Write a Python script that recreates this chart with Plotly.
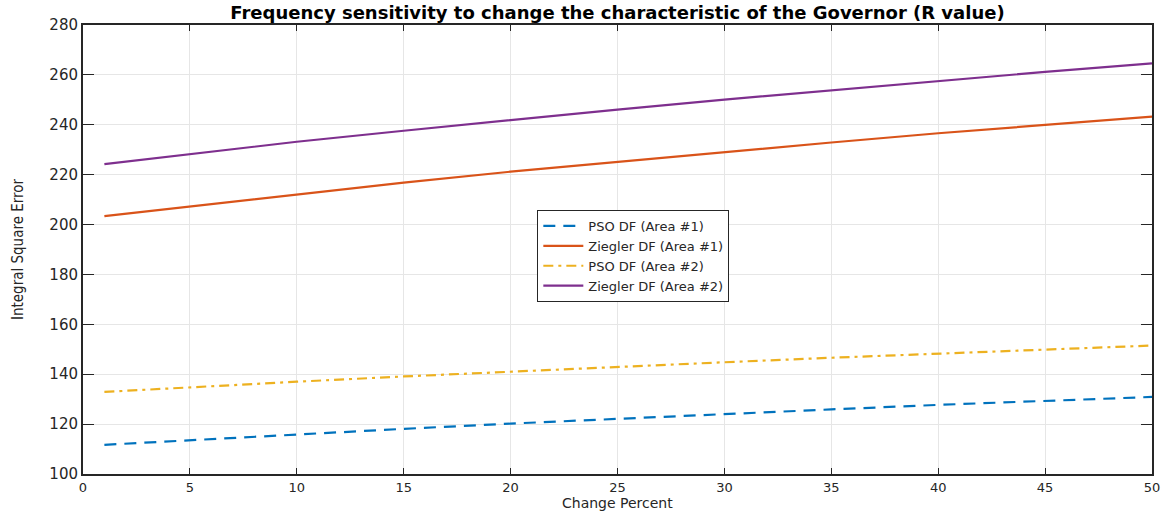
import plotly.graph_objects as go

change_percent = [1, 5, 10, 15, 20, 25, 30, 35, 40, 45, 50]
pso_area1 = [111.7, 113.6, 115.9, 118.1, 120.2, 122.2, 124.1, 125.9, 127.7, 129.3, 130.9]
ziegler_area1 = [203.4, 207.3, 212.2, 216.8, 221.2, 225.2, 229.1, 232.9, 236.6, 240.0, 243.3]
pso_area2 = [132.9, 134.8, 137.0, 139.1, 141.1, 143.0, 144.8, 146.6, 148.3, 149.9, 151.5]
ziegler_area2 = [224.2, 228.3, 233.2, 237.6, 242.0, 246.1, 250.1, 253.9, 257.6, 261.2, 264.6]

series_names = ["PSO DF (Area #1)", "Ziegler DF (Area #1)", "PSO DF (Area #2)", "Ziegler DF (Area #2)"]
colors = ["#0072BD", "#D95319", "#EDB120", "#7E2F8E"]
dashes = ["12px,8px", "solid", "10px,5px,3px,5px", "solid"]

fig = go.Figure()
for name, ys, c, d in zip(series_names, [pso_area1, ziegler_area1, pso_area2, ziegler_area2], colors, dashes):
    fig.add_trace(go.Scatter(x=change_percent, y=ys, mode="lines", name=name,
                             line=dict(color=c, width=2.2, dash=d)))

axis_common = dict(showline=True, linecolor="#262626", linewidth=2, mirror="ticks",
                   ticks="inside", tickcolor="#262626", showgrid=True, gridcolor="#e6e6e6",
                   gridwidth=1, zeroline=False, automargin=False)

fig.update_xaxes(range=[0, 50], tickvals=list(range(0, 51, 5)), ticklen=6,
                 tickfont=dict(family="DejaVu Sans, Liberation Sans", size=13, color="#262626"),
                 **axis_common)
fig.update_yaxes(range=[100, 280], tickvals=list(range(100, 281, 20)), ticklen=11,
                 tickfont=dict(family="DejaVu Sans, Liberation Sans", size=15, color="#262626"),
                 title=dict(text="Integral Square Error", standoff=22,
                            font=dict(family="Liberation Sans Narrow, DejaVu Sans Condensed, Liberation Sans", size=15, color="#262626")),
                 **axis_common)

fig.add_annotation(text="Change Percent", xref="paper", yref="paper", x=0.5, y=-(513 - 474) / 449,
                   xanchor="center", yanchor="bottom", showarrow=False,
                   font=dict(family="DejaVu Sans, Liberation Sans", size=14, color="#262626"))

fig.update_layout(
    width=1172, height=513,
    margin=dict(l=83, r=20, t=25, b=39),
    paper_bgcolor="white", plot_bgcolor="white",
    title=dict(text="<b>Frequency sensitivity to change the characteristic of the Governor (R value)</b>",
               x=0.5, xref="paper", y=1 - 13 / 513, yref="container", yanchor="middle",
               font=dict(family="DejaVu Sans, Liberation Sans", size=18, color="black")),
    legend=dict(x=0.425, y=0.588, xanchor="left", yanchor="top",
                bgcolor="white", bordercolor="#262626", borderwidth=1,
                font=dict(family="DejaVu Sans, Liberation Sans", size=13, color="#262626"),
                tracegroupgap=0, itemwidth=40),
    showlegend=True,
)

fig.write_html("out.html")
